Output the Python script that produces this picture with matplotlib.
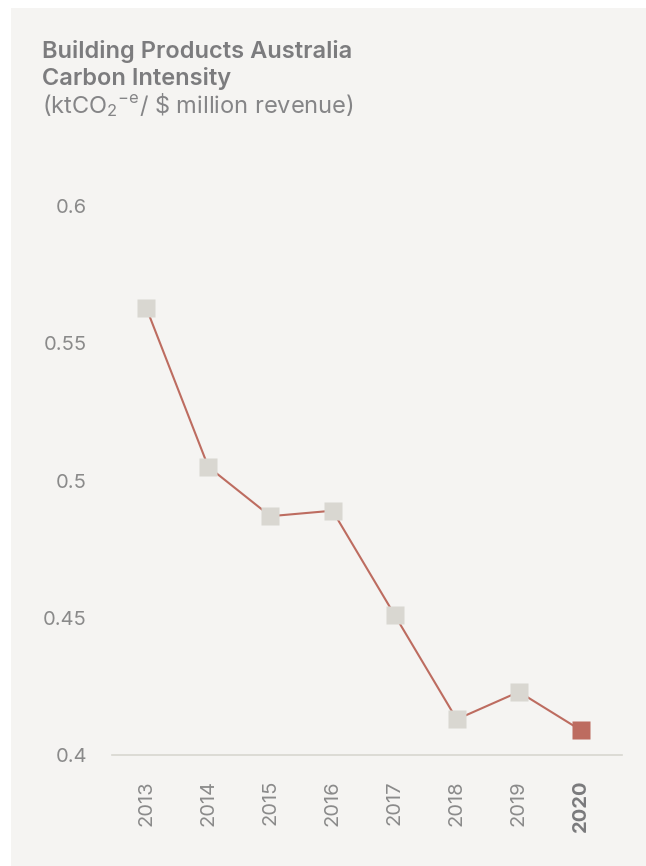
import matplotlib.pyplot as plt
from matplotlib.patches import Rectangle

years = ['2013', '2014', '2015', '2016', '2017', '2018', '2019', '2020']
intensity = [0.563, 0.505, 0.487, 0.489, 0.451, 0.413, 0.423, 0.409]
y_ticks = [0.4, 0.45, 0.5, 0.55, 0.6]
y_tick_labels = ['0.4', '0.45', '0.5', '0.55', '0.6']

plt.rcParams['font.family'] = ['Inter', 'DejaVu Sans']
plt.rcParams['mathtext.fontset'] = 'custom'
plt.rcParams['mathtext.rm'] = 'Inter'
plt.rcParams['mathtext.it'] = 'Inter'

W, H = 646, 866
fig = plt.figure(figsize=(W / 100, H / 100), dpi=100, facecolor='white')

# light panel behind everything
fig.patches.append(Rectangle((11 / W, 0), 1 - 11 / W, 1 - 8 / H, transform=fig.transFigure,
                             facecolor='#f5f4f2', edgecolor='none', zorder=-10))

ax = fig.add_axes([112 / W, 1 - 755 / H, (622 - 112) / W, (755 - 206) / H])
ax.set_facecolor('none')

line_col = '#bd6c60'
box_col = '#d9d7d1'
x = list(range(len(years)))
ax.plot(x, intensity, color=line_col, lw=1.5, zorder=2, clip_on=False)
ax.plot(x[:-1], intensity[:-1], ls='none', marker='s', ms=13.5, mfc=box_col, mec='none',
        zorder=3, clip_on=False)
ax.plot(x[-1:], intensity[-1:], ls='none', marker='s', ms=13.5, mfc=line_col, mec='none',
        zorder=3, clip_on=False)

ax.set_xlim(-0.55, 7.66)
ax.set_ylim(0.4, 0.6)
for s in ['top', 'right', 'left']:
    ax.spines[s].set_visible(False)
ax.spines['bottom'].set_color('#d8d6d0')
ax.spines['bottom'].set_linewidth(1.2)

ax.set_yticks(y_ticks)
ax.set_yticklabels(y_tick_labels)
ax.tick_params(axis='y', length=0, pad=18, labelsize=14.5, labelcolor='#8a8a8a')
ax.set_xticks(x)
ax.set_xticklabels(years, rotation=90, va='top', ha='center')
ax.tick_params(axis='x', length=0, pad=18, labelsize=14.5, labelcolor='#8a8a8a')
last = ax.get_xticklabels()[-1]
last.set_fontweight('bold')
last.set_color('#7a7a7c')

fig.text(42 / W, 1 - 58 / H, 'Building Products Australia', fontsize=17, fontweight='semibold',
         color='#7c7c7e', va='baseline', ha='left')
fig.text(42 / W, 1 - 85 / H, 'Carbon Intensity', fontsize=17, fontweight='semibold',
         color='#7c7c7e', va='baseline', ha='left')
fig.text(42 / W, 1 - 113 / H, r'(ktCO$_2$$^{\mathrm{-e}}$/ \$ million revenue)', fontsize=17,
         color='#858587', va='baseline', ha='left')

fig.savefig('out.png', dpi=100, facecolor='white')
